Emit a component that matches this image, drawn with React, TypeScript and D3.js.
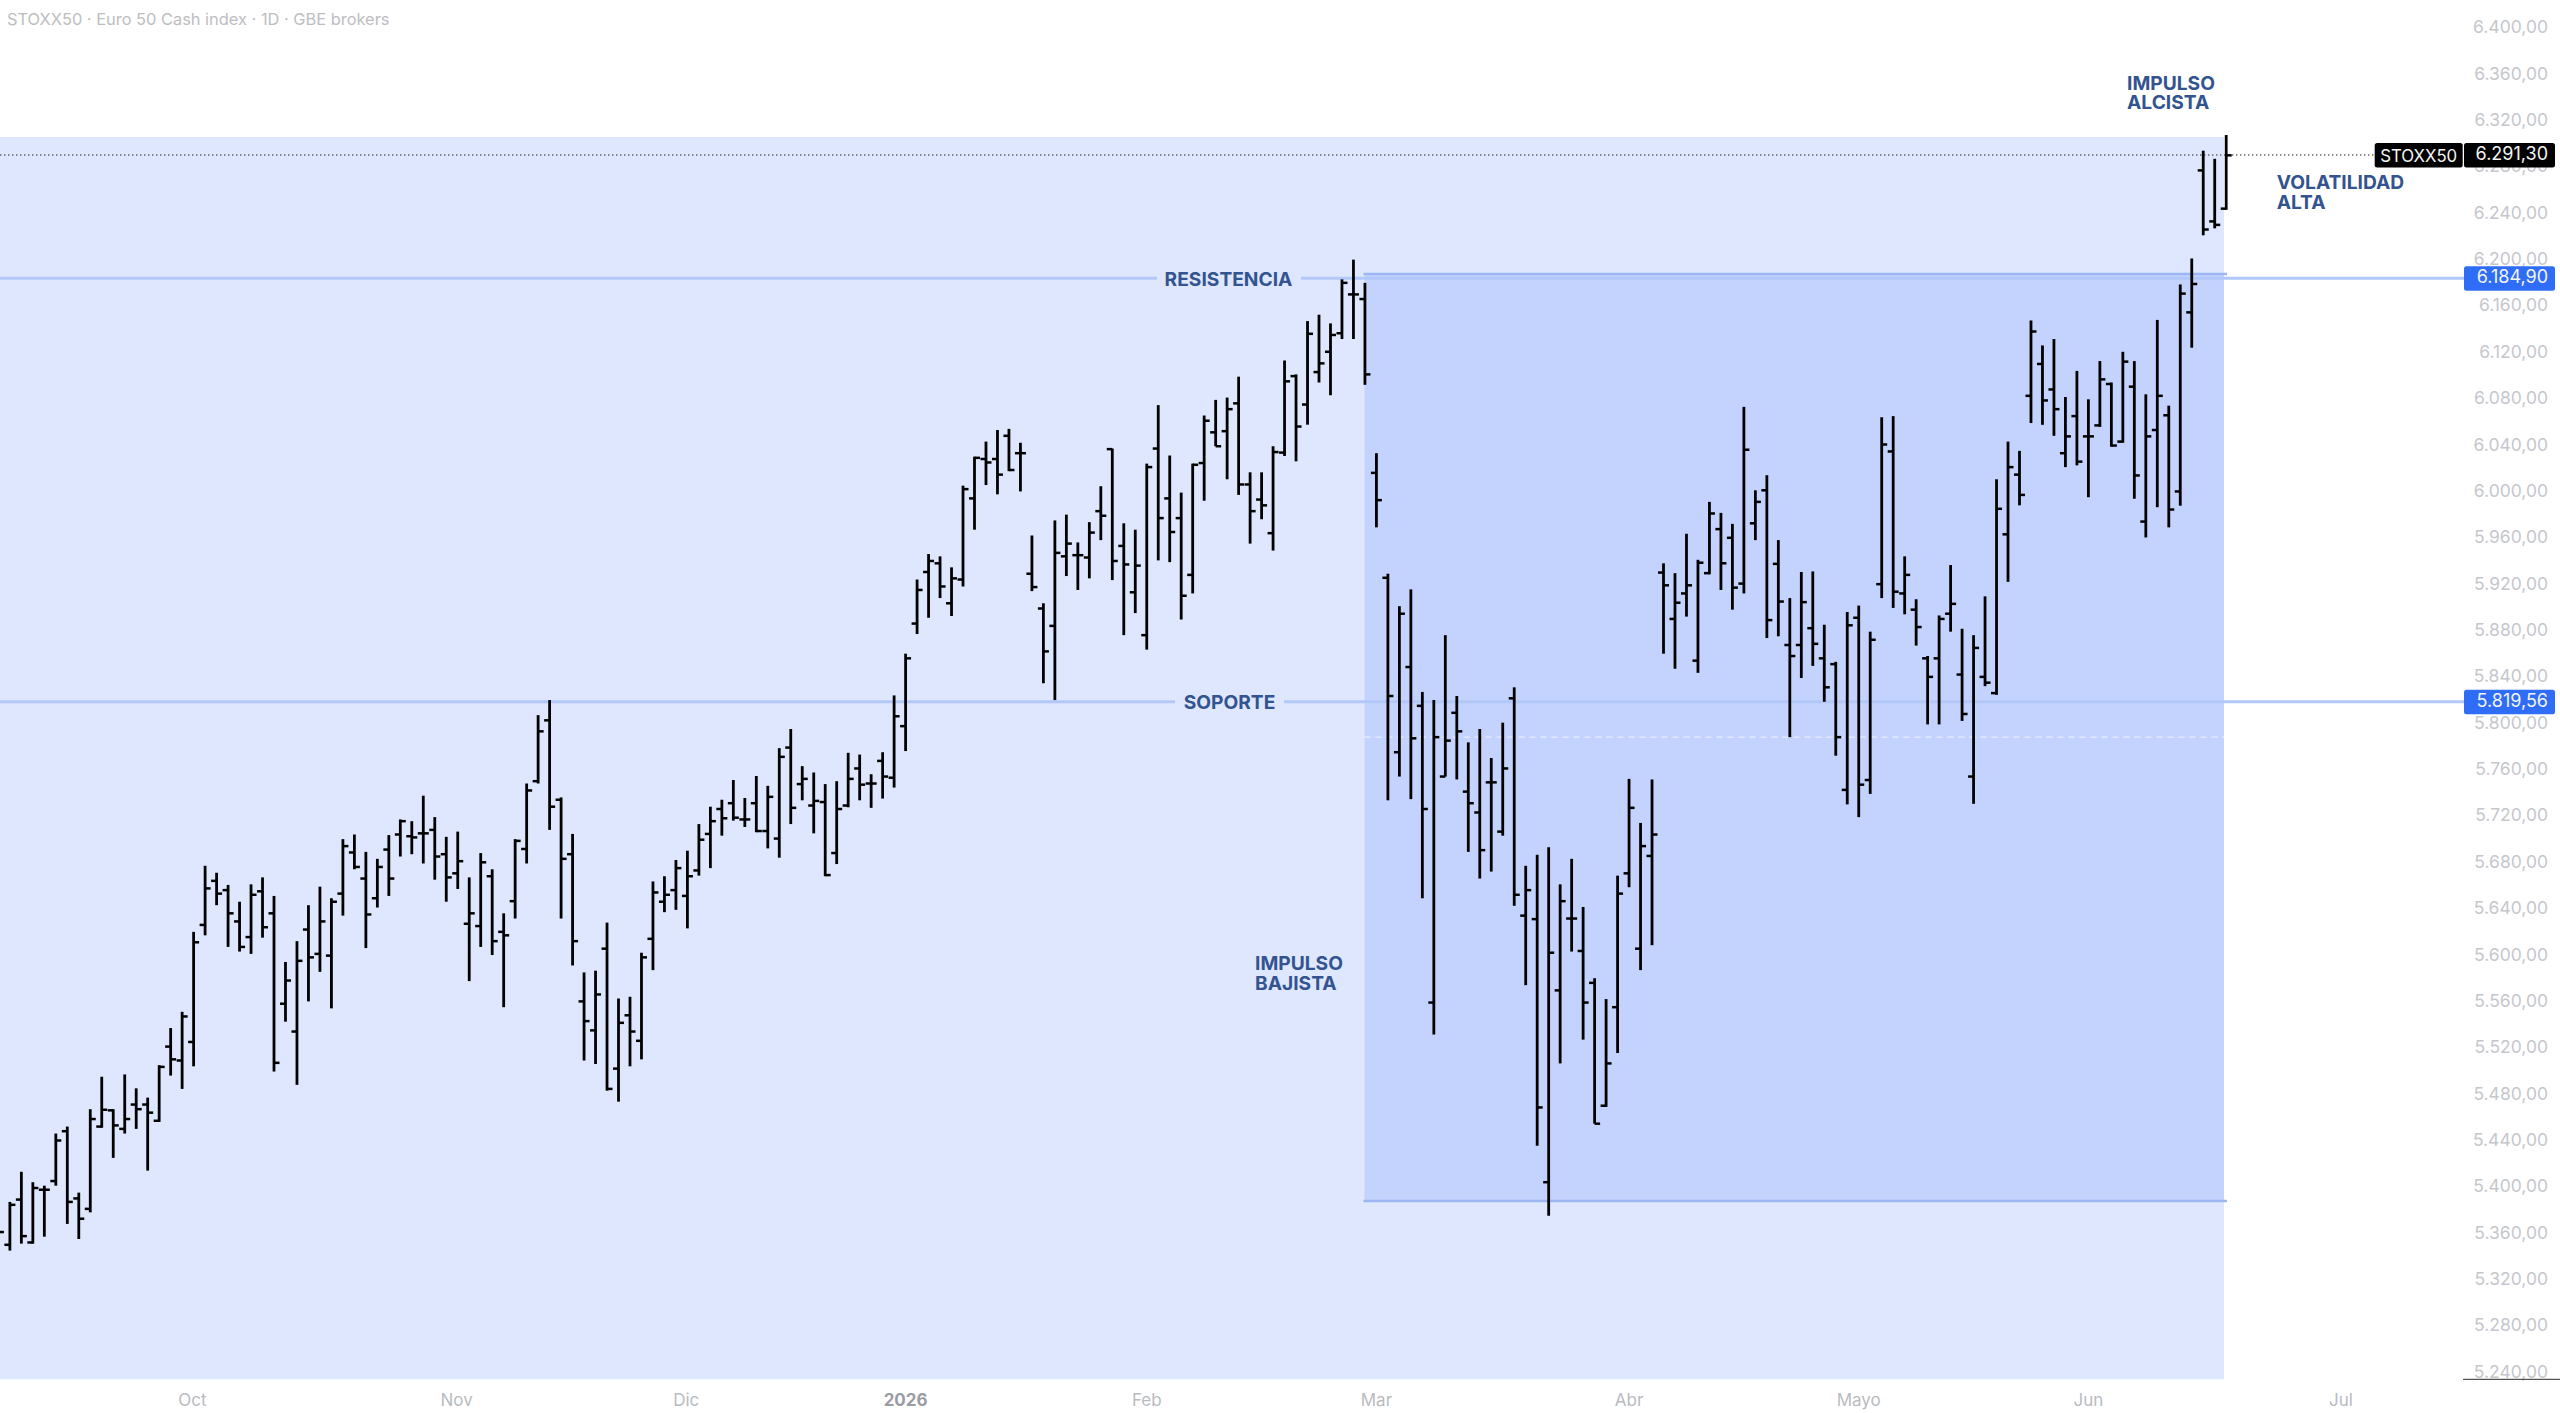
import React from "react";
import * as d3 from "d3";

const W = 2560;
const H = 1413;

const opens = [
  5356,5351,5390,5353,5398.5,5406,5449,5391,5382,5453,
  5467,5451,5472,5472,5458,5522,5510,5526,5627,5665,
  5657,5630,5616.5,5656,5637,5559,5535,5623,5602,5600.5,
  5654,5689.5,5667,5650,5692,5705,5703.5,5706,5709,5688,
  5671.5,5628,5626,5669,5621,5647.5,5692.5,5751,5803.5,5735,
  5688,5561,5536,5606.5,5503,5549,5527,5615,5647,5657,
  5652,5674,5705.5,5727,5732,5718,5732,5708,5701.5,5780,
  5748.5,5730,5733,5689,5730,5762,5749,5768.5,5754,5798.5,
  5887,5931.5,5939,5904.5,5925,5995,6029,6029,6049,6034,
  5930,5900,5885,5945,5946,5944,5984,6037.5,5954,5914,
  5877,6038,5995,5978,5929,6025.5,6052,6053,6077,6007,
  5994,5965,6034.5,6100.5,6076,6104,6121.5,6137.5,6171,6167,
  6017,5926.5,5776,5849.5,5816,5560,5755,5810,5742,5724,
  5750,5707.5,5822.5,5635,5632,5405,5570.5,5632.5,5604.5,5577,
  5471,5556,5671.5,5606.5,5686.5,5931,5891,5913,5855,5930.5,
  5968.5,5961,5921.5,5973.5,6002,5938.5,5868.5,5868.5,5883,5857,
  5852,5743.5,5892,5752,5921,6035.5,5913,5899,5857,5857,
  5895.5,5843,5755,5841,5827,5964,6015.5,6083.5,6111,6089,
  6034,6066,6048.5,6058,6093.7,6044,6091.4,5975,6054,6066.7,
  6001,6155.5,6278,6234,6245,
];
const highs = [
  5386,5388,5414,5405,5402,5447,5453,5396,5468,5496,
  5468,5498,5486,5478,5506,5538,5552,5621,5678,5672,
  5661.5,5647,5662,5668,5652,5595,5613,5644,5660,5650,
  5701,5705,5690,5684,5704.5,5718,5716.5,5738.5,5720,5703,
  5707.5,5668,5689,5675,5637,5701,5749,5808,5821,5737,
  5705.5,5586,5587.5,5629,5563.5,5565,5603,5664.5,5669,5683,
  5691,5714,5729,5735,5752,5736.5,5755.5,5747,5779.5,5796,
  5764,5758.5,5748.5,5751,5775.5,5774,5757,5776,5825,5861,
  5925,5947,5945,5935.5,6006,6031,6044,6054,6055,6043,
  5963,5904.5,5976,5981,5957,5974.5,6005.5,6038,5973.5,5968,
  6025,6075.5,6032,6000,6025,6066.5,6080,6082,6100,6017.5,
  6017.5,6040,6114,6102,6148,6153.5,6146,6184,6201,6181,
  6034,5930,5902,5916.5,5828,5821,5877,5824.5,5784.5,5796,
  5771,5801.5,5832,5678,5687.5,5694,5662,5684,5642.5,5581,
  5563,5669.5,5753,5715,5752.5,5939,5930.5,5964.5,5942,5992,
  5982.5,5973,6074,6002,6015,5959,5909,5931.5,5932,5886,
  5854,5897,5902.5,5880,6065,6066,5945,5908,5859,5894,
  5937.5,5882.5,5877,5910.5,6011.5,6044,6036,6148.5,6127,6132.5,
  6082.5,6105,6080.5,6113.5,6095,6121.5,6113.5,6084.8,6149,6075,
  6179.6,6202,6295,6288,6308.5,
];
const lows = [
  5352,5346,5352,5352,5358,5402,5369,5356,5379,5452,
  5426,5447,5451,5415,5457,5497,5485.5,5505,5618,5644,
  5608,5604,5602,5616,5500.5,5543.5,5489,5561,5586.5,5555,
  5635,5675,5607,5642,5652,5686,5688,5680,5666,5647,
  5658,5578.5,5608,5601,5556,5632.5,5680,5749,5709,5632.5,
  5592,5510,5507,5484,5474.5,5505,5511,5588,5638,5640,
  5624,5669.5,5676,5704,5717,5711.5,5707,5693,5685,5714,
  5734.5,5706,5669,5679.5,5728.5,5734.5,5728,5736,5745.5,5777,
  5878,5892,5909,5893.5,5919,5968,6006.5,5998.5,6018.5,6001,
  5915,5835.5,5821,5928,5916,5926,5959,5924.5,5877,5896,
  5864.5,5941.5,5940,5890.5,5913,5993,6040,6011.5,5998,5956,
  5977,5950,6031.6,6027,6058.6,6095,6084,6132.5,6132.5,6093,
  5970,5734.5,5755,5735.5,5650,5532.5,5755,5752.5,5690,5667,
  5673,5704,5643.5,5575,5436.5,5376,5507.5,5604,5528,5455.5,
  5470,5516.5,5659.5,5588,5609.5,5861,5848,5893,5844.5,5929.5,
  5916,5899,5913,5959,5874.5,5876,5789,5840,5850.5,5819.5,
  5773,5731,5720,5740,5909,5900.5,5895,5868,5800,5800,
  5880,5803,5731.5,5833,5825.5,5923,5989,6060,6058.5,6049,
  6022,6023.5,5996,6056.7,6039.6,6043,5994.7,5961.3,5987.4,5970,
  5988.7,6125,6222,6228,6244,
];
const closes = [
  5362,5385.5,5358.5,5400,5398.5,5441,5388,5373.5,5459.5,5467.5,
  5454,5459.5,5468,5465,5504.5,5511,5548,5612,5658.5,5654,
  5637,5608,5653,5625,5508,5579,5596,5599,5630,5647,
  5695,5677,5636,5677,5667,5716.5,5702.5,5706,5686,5668,
  5682,5637,5681,5613,5618,5699.5,5743,5794,5729,5684,
  5613,5544,5567,5485.5,5542.5,5535,5599,5655,5653,5676,
  5669,5700.5,5716.5,5719,5719.5,5718,5708,5737.5,5772,5728,
  5753,5734,5670,5727,5753,5748,5749,5755,5807,5857,
  5916,5941,5919,5926,6003,6030,6026,6015.5,6019.5,6034,
  5918.5,5863,5948,5956,5946,5965.5,5980,5941,5938,5937,
  6022,5978,5966,5911,6024,6062,6040,6072,6007,5984,
  5989,6035,6096,6057,6137,6111.5,6136,6181,6171,6102,
  5993.5,5824.5,5895.5,5788,5727,5789,5786,5794,5732,5691.5,
  5750,5762,5653,5657,5469.5,5603,5647.5,5632.5,5560,5455.5,
  5507.5,5654,5728,5695,5705,5920,5905,5920,5939.5,5982,
  5939,5918,6037,5992,5890,5906,5859,5905.5,5869.5,5832,
  5789,5885.5,5748,5873,6041.5,5914.5,5929,5884,5841,5891,
  5904,5809,5866,5836,5986,6022,5998,6139,6079.5,6072,
  6048.5,6026.7,6048.5,6097.7,6040.6,6113,6014.8,6048.5,6083.5,5985.4,
  6171.7,6180,6227,6231,6291,
];

const priceTicks = d3.range(6400, 5239, -40);
const monthLabels = ["Oct", "Nov", "Dic", "2026", "Feb", "Mar", "Abr", "Mayo", "Jun", "Jul"];
const monthIndex = [16.9, 39.9, 59.9, 79, 100, 120, 142, 162, 182, 204];

const LAST = 6291.3;
const RESIST = 6184.9;
const SUPPORT = 5819.56;
const DASHED = 5789;
const BOX_TOP = 6188.6;
const BOX_BOTTOM = 5388.8;
const AREA_TOP = 6306.8;
const AREA_BOTTOM = 5235;

const x = d3.scaleLinear().domain([0, 194]).range([-1.6, 2226.2]);
const y = d3.scaleLinear().domain([6400, 5240]).range([29, 29 + 1160 * 1.159]);

const priceFmt = (v: number) =>
  d3.format(",.2f")(v).replace(/,/g, "#").replace(".", ",").replace(/#/g, ".");

const FONT = "Inter, 'Noto Sans', sans-serif";
const NOTE = "#33548f";
const AXIS = "#c5c7cc";
const LINE = "#b2c8f8";

function Note({ px, py, lines, anchor = "start" }: { px: number; py: number; lines: string[]; anchor?: string }) {
  return (
    <g>
      {lines.map((t, i) => (
        <text key={t} x={px} y={py + i * 19.3} dy="0.36em" fontFamily={FONT} fontWeight={700} fontSize={19.2} fill={NOTE} textAnchor={anchor}>
          {t}
        </text>
      ))}
    </g>
  );
}

export default function App() {
  const areaRight = 2224;
  const boxLeft = 1364.5;
  const boxRight = 2227;
  return (
    <svg width={W} height={H} viewBox={`0 0 ${W} ${H}`} style={{ position: "fixed", left: 0, top: 0, background: "#fff" }}>
      <rect x={0} y={y(AREA_TOP)} width={areaRight} height={y(AREA_BOTTOM) - y(AREA_TOP)} fill="#dee7fe" />
      <rect x={boxLeft} y={y(BOX_TOP)} width={areaRight - boxLeft} height={y(BOX_BOTTOM) - y(BOX_TOP)} fill="#c4d3fe" />
      <line x1={boxLeft} x2={areaRight} y1={y(DASHED)} y2={y(DASHED)} stroke="#e6edff" strokeWidth={1.2} strokeDasharray="6 5" />

      <line x1={boxLeft - 1} x2={boxRight} y1={y(BOX_TOP)} y2={y(BOX_TOP)} stroke="#9db6f2" strokeWidth={2.5} />
      <line x1={boxLeft - 1} x2={boxRight} y1={y(BOX_BOTTOM)} y2={y(BOX_BOTTOM)} stroke="#9db6f2" strokeWidth={2.5} />

      <line x1={0} x2={1157} y1={y(RESIST)} y2={y(RESIST)} stroke={LINE} strokeWidth={3} />
      <line x1={1301} x2={2464} y1={y(RESIST)} y2={y(RESIST)} stroke={LINE} strokeWidth={3} />
      <line x1={0} x2={1175} y1={y(SUPPORT)} y2={y(SUPPORT)} stroke={LINE} strokeWidth={3} />
      <line x1={1284} x2={2464} y1={y(SUPPORT)} y2={y(SUPPORT)} stroke={LINE} strokeWidth={3} />
      <line x1={0} x2={2375} y1={y(LAST)} y2={y(LAST)} stroke="#222" strokeWidth={1.2} strokeDasharray="1.4 2.6" />

      {opens.map((o, i) => (
        <g key={i} stroke="#000">
          <line x1={x(i)} x2={x(i)} y1={y(highs[i])} y2={y(lows[i])} strokeWidth={2.8} />
          <line x1={x(i) - 5.5} x2={x(i)} y1={y(o)} y2={y(o)} strokeWidth={2.5} />
          <line x1={x(i)} x2={x(i) + 5.5} y1={y(closes[i])} y2={y(closes[i])} strokeWidth={2.5} />
        </g>
      ))}

      <text x={7} y={19} dy="0.36em" fontFamily={FONT} fontSize={16.4} fill="#bdbdc1">
        STOXX50 · Euro 50 Cash index · 1D · GBE brokers
      </text>

      {priceTicks.map((v) => (
        <text key={v} x={2548} y={y(v) - 2} dy="0.36em" textAnchor="end" fontFamily={FONT} fontSize={17.5} fill={AXIS}>
          {priceFmt(v)}
        </text>
      ))}

      {monthLabels.map((m, i) => (
        <text
          key={m}
          x={x(monthIndex[i])}
          y={1399.5}
          dy="0.36em"
          textAnchor="middle"
          fontFamily={FONT}
          fontSize={17}
          fontWeight={m === "2026" ? 700 : 400}
          fill={m === "2026" ? "#9a9ca3" : "#b9bbc0"}
        >
          {m}
        </text>
      ))}
      <line x1={2463} x2={W} y1={1379.3} y2={1379.3} stroke="#555" strokeWidth={1.2} />

      <Note px={2127} py={83} lines={["IMPULSO", "ALCISTA"]} />
      <Note px={2276.7} py={182.5} lines={["VOLATILIDAD", "ALTA"]} />
      <Note px={1255} py={963.5} lines={["IMPULSO", "BAJISTA"]} />
      <Note px={1228.5} py={279} lines={["RESISTENCIA"]} anchor="middle" />
      <Note px={1229.5} py={702.5} lines={["SOPORTE"]} anchor="middle" />

      <rect x={2374.7} y={143} width={88} height={24.5} rx={2.5} fill="#000" />
      <text x={2418.7} y={155.5} dy="0.36em" textAnchor="middle" fontFamily={FONT} fontSize={16.8} fill="#f4f4f4">
        STOXX50
      </text>
      <rect x={2464} y={143} width={91} height={24.5} rx={2.5} fill="#000" />
      <text x={2548} y={153.8} dy="0.36em" textAnchor="end" fontFamily={FONT} fontSize={18} fill="#f4f4f4">
        {priceFmt(LAST)}
      </text>

      {[RESIST, SUPPORT].map((v) => (
        <g key={v}>
          <rect x={2464} y={y(v) - 12} width={91} height={24.5} rx={2.5} fill="#2f6df6" />
          <text x={2548} y={y(v) - 1.5} dy="0.36em" textAnchor="end" fontFamily={FONT} fontSize={18} fill="#f4f4f4">
            {priceFmt(v)}
          </text>
        </g>
      ))}
    </svg>
  );
}
